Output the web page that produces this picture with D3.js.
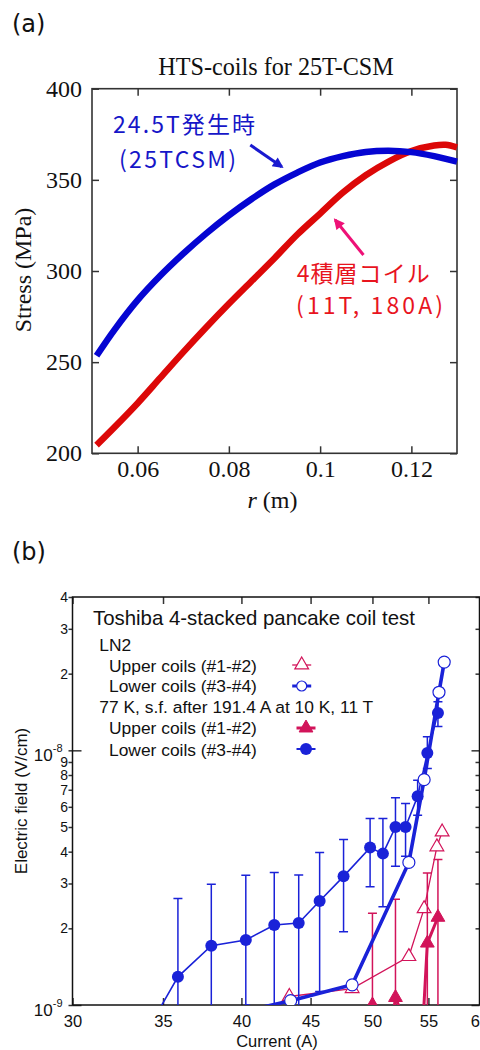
<!DOCTYPE html>
<html><head><meta charset="utf-8">
<script src="https://cdn.jsdelivr.net/npm/d3@7"></script>
<style>
html,body{margin:0;padding:0;background:#fff;}
svg{display:block;}
</style></head>
<body>
<svg id="chart" width="480" height="1050"></svg>
<script>
// ---------- Panel (a) data ----------
const radiusBlue = [0.051,0.055,0.060,0.065,0.070,0.075,0.080,0.085,0.090,0.095,0.100,0.105,0.110,0.115,0.120,0.125,0.130];
const stressBlue = [253.5,268,284,297.5,309.5,320.5,330.5,339.5,347.5,354,359.5,363,365.3,366,365.2,363,360];
const radiusRed  = [0.051,0.055,0.060,0.065,0.070,0.075,0.080,0.085,0.090,0.095,0.100,0.105,0.110,0.115,0.120,0.125,0.1275,0.130];
const stressRed  = [204.5,214.5,227.5,241.5,255.5,269,282,294.5,307,320,331.5,343,352.5,360,365.8,368.8,369.2,367.8];
const stressTicks = [200,250,300,350,400];
const radiusTicks = [0.06,0.08,0.1,0.12];
const radiusTickLabels = ["0.06","0.08","0.1","0.12"];
const arrowBlue = [[0.0847,369.1],[0.0916,357.2]];
const arrowPink = [[0.1095,308.8],[0.1033,328.0]];

// ---------- Panel (b) data ----------
const currentTicks = [30,35,40,45,50,55,60];
const currentTickLabels = ["30","35","40","45","50","55","60"];
const fieldMajorTicks = [1e-9,1e-8];
const fieldMajorExp = ["-9","-8"];
const fieldMinorTicks = [2e-9,3e-9,4e-9,5e-9,6e-9,7e-9,8e-9,9e-9,2e-8,3e-8,4e-8];
const fieldMinorLabels = ["2","3","4","5","6","7","8","9","2","3","4"];

// LN2, upper coils (#1-#2): open triangles
const upperLN2Current = [41.5,43.4,48.3,53.2,54.6,55.8,56.3];
const upperLN2Field   = [0.9e-9,1.08e-9,1.16e-9,1.55e-9,2.39e-9,4.18e-9,4.78e-9];
// LN2, lower coils (#3-#4): open circles
const lowerLN2Current = [40.4,43.5,48.3,53.2,54.6,56.0,56.5];
const lowerLN2Field   = [0.95e-9,1.04e-9,1.2e-9,3.63e-9,7.67e-9,16.9e-9,22.2e-9];
// 77 K, upper coils: filled triangles (with error bars)
const upper77Current = [50.0,51.0,52.0,54.3,54.9,55.9];
const upper77Field   = [1.0e-9,0.5e-9,1.07e-9,0.6e-9,1.75e-9,2.21e-9];
const upper77ErrLow  = [0.5e-9,null,0.5e-9,null,0.5e-9,0.5e-9];
const upper77ErrHigh = [2.29e-9,null,2.6e-9,null,3.3e-9,3.73e-9];
// 77 K, lower coils: filled circles (with error bars)
const lower77Current = [34.1,35.9,38.0,40.3,42.3,44.1,45.7,47.6,49.8,50.9,52.0,52.9,54.0,54.9,55.9];
const lower77Field   = [0.8e-9,1.29e-9,1.71e-9,1.80e-9,2.06e-9,2.10e-9,2.56e-9,3.2e-9,4.15e-9,3.93e-9,5.0e-9,5.0e-9,6.6e-9,9.76e-9,14.0e-9];
const lower77ErrLow  = [null,0.5e-9,0.5e-9,0.5e-9,0.5e-9,0.5e-9,1.13e-9,1.94e-9,2.91e-9,2.43e-9,3.51e-9,3.84e-9,5.56e-9,8.48e-9,12.4e-9];
const lower77ErrHigh = [null,2.62e-9,2.98e-9,3.23e-9,3.31e-9,3.24e-9,3.97e-9,4.47e-9,5.4e-9,5.4e-9,6.52e-9,6.18e-9,7.63e-9,11.3e-9,15.5e-9];

const legendLines = [
  {text:"LN2", x:99.3, y:650.5},
  {text:"Upper coils (#1-#2)", x:109, y:671.5},
  {text:"Lower coils (#3-#4)", x:109, y:692.3},
  {text:"77 K, s.f. after 191.4 A at 10 K, 11 T", x:99.3, y:713.3},
  {text:"Upper coils (#1-#2)", x:109, y:734.3},
  {text:"Lower coils (#3-#4)", x:109, y:755.5}
];

// ---------- drawing ----------
const svg = d3.select("#chart");
const serif = "'Liberation Serif','Times New Roman',serif";
const sans = "'Liberation Sans',Arial,Helvetica,sans-serif";
const cjk = "'Noto Sans CJK JP','Noto Sans',sans-serif";
const defs = svg.append("defs");

function arrowMarker(id, color){
  defs.append("marker").attr("id",id).attr("viewBox","0 0 10 10")
    .attr("refX",8).attr("refY",5).attr("markerWidth",4.2).attr("markerHeight",3.6)
    .attr("orient","auto")
    .append("path").attr("d","M0,0 L10,5 L0,10 Z").attr("fill",color);
}
arrowMarker("arrB","#1a1ad0");
arrowMarker("arrP","#ee1177");

// ===== Panel (a) =====
const A = {left:92, right:457, top:88.7, bottom:453.3};
const xA = d3.scaleLinear().domain([0.05,0.13]).range([A.left,A.right]);
const yA = d3.scaleLinear().domain([200,400]).range([A.bottom,A.top]);

svg.append("text").attr("x",12).attr("y",32).attr("font-family","'DejaVu Sans',sans-serif")
  .attr("font-size",24).attr("fill","#111").text("(a)");
svg.append("text").attr("x",276).attr("y",75).attr("text-anchor","middle")
  .attr("font-family",serif).attr("font-size",24.2).attr("fill","#111").text("HTS-coils for 25T-CSM");

function styleAxis(g, font, size){
  g.attr("font-family",font).attr("font-size",size);
  g.select(".domain").remove();
  g.selectAll(".tick line").attr("stroke","#333").attr("stroke-width",1.5);
  g.selectAll(".tick text").attr("fill","#111");
}
styleAxis(svg.append("g").attr("transform",`translate(0,${A.bottom})`)
  .call(d3.axisBottom(xA).tickValues(radiusTicks).tickFormat((d,i)=>radiusTickLabels[i]).tickSize(-7).tickPadding(7)), serif, 24);
styleAxis(svg.append("g").attr("transform",`translate(0,${A.top})`)
  .call(d3.axisTop(xA).tickValues(radiusTicks).tickFormat("").tickSize(-7)), serif, 24);
styleAxis(svg.append("g").attr("transform",`translate(${A.left},0)`)
  .call(d3.axisLeft(yA).tickValues(stressTicks).tickFormat(d3.format("d")).tickSize(-7).tickPadding(10)), serif, 24);
styleAxis(svg.append("g").attr("transform",`translate(${A.right},0)`)
  .call(d3.axisRight(yA).tickValues(stressTicks).tickFormat("").tickSize(-7)), serif, 24);
svg.append("rect").attr("x",A.left).attr("y",A.top).attr("width",A.right-A.left).attr("height",A.bottom-A.top)
  .attr("fill","none").attr("stroke","#333").attr("stroke-width",1.6);

// axis titles
const rt = svg.append("text").attr("x",272.5).attr("y",508).attr("text-anchor","middle")
  .attr("font-family",serif).attr("font-size",24).attr("fill","#111");
rt.append("tspan").attr("font-style","italic").text("r");
rt.append("tspan").text(" (m)");
svg.append("text").attr("transform","translate(31,270) rotate(-90)").attr("text-anchor","middle")
  .attr("font-family",serif).attr("font-size",24).attr("fill","#111").text("Stress (MPa)");

// curves
const lineA = d3.line().x(d=>xA(d[0])).y(d=>yA(d[1])).curve(d3.curveCatmullRom);
svg.append("path").attr("d",lineA(d3.zip(radiusRed,stressRed))).attr("fill","none")
  .attr("stroke","#dc0808").attr("stroke-width",6.5);
svg.append("path").attr("d",lineA(d3.zip(radiusBlue,stressBlue))).attr("fill","none")
  .attr("stroke","#0505d2").attr("stroke-width",6.5);

// annotations
svg.append("path").attr("d",d3.line().x(d=>xA(d[0])).y(d=>yA(d[1]))(arrowBlue))
  .attr("stroke","#1a1ad0").attr("stroke-width",3).attr("fill","none").attr("marker-end","url(#arrB)");
svg.append("path").attr("d",d3.line().x(d=>xA(d[0])).y(d=>yA(d[1]))(arrowPink))
  .attr("stroke","#ee1177").attr("stroke-width",3).attr("fill","none").attr("marker-end","url(#arrP)");
function label(t,x,y,w,col){
  svg.append("text").attr("x",x).attr("y",y).attr("font-family",cjk).attr("font-size",23)
    .attr("fill",col).attr("textLength",w).attr("lengthAdjust","spacing").text(t);
}
label("24.5T発生時",113,133,142,"#1616c8");
label("(25TCSM)",119,168.3,117,"#1616c8");
label("4積層コイル",296.7,282,133,"#e8141e");
label("(11T, 180A)",296,313.5,147,"#e8141e");

// ===== Panel (b) =====
const B = {left:72.5, right:479.5, top:597, bottom:1005};
const xB = d3.scaleLog().domain([30,60]).range([B.left,B.right]);
const yB = d3.scaleLog().domain([1e-9,4e-8]).range([B.bottom,B.top]);

svg.append("text").attr("x",12).attr("y",560).attr("font-family","'DejaVu Sans',sans-serif")
  .attr("font-size",24).attr("fill","#111").text("(b)");

styleAxis(svg.append("g").attr("transform",`translate(0,${B.bottom})`)
  .call(d3.axisBottom(xB).tickValues(currentTicks).tickFormat((d,i)=>currentTickLabels[i]).tickSize(-7).tickPadding(10)), sans, 16.5);
styleAxis(svg.append("g").attr("transform",`translate(0,${B.top})`)
  .call(d3.axisTop(xB).tickValues(currentTicks).tickFormat("").tickSize(-7)), sans, 16.5);
// left minor
styleAxis(svg.append("g").attr("transform",`translate(${B.left},0)`)
  .call(d3.axisLeft(yB).tickValues(fieldMinorTicks).tickFormat((d,i)=>fieldMinorLabels[i]).tickSize(4).tickPadding(0.5)), sans, 14);
// left major (outward + inward)
const gMaj = svg.append("g").attr("transform",`translate(${B.left},0)`)
  .call(d3.axisLeft(yB).tickValues(fieldMajorTicks).tickFormat("").tickSize(4));
styleAxis(gMaj, sans, 17);
styleAxis(svg.append("g").attr("transform",`translate(${B.left},0)`)
  .call(d3.axisLeft(yB).tickValues(fieldMajorTicks).tickFormat("").tickSize(-9)), sans, 17);
gMaj.selectAll(".tick").each(function(d,i){
  const t = d3.select(this).append("text").attr("x",-10).attr("y",10).attr("text-anchor","end")
    .attr("fill","#111").attr("font-size",17);
  t.append("tspan").text("10");
  t.append("tspan").attr("font-size",11).attr("dy",-9).text(fieldMajorExp[i]);
});
// right axis
styleAxis(svg.append("g").attr("transform",`translate(${B.right},0)`)
  .call(d3.axisRight(yB).tickValues(fieldMinorTicks).tickFormat("").tickSize(-4)), sans, 14);
styleAxis(svg.append("g").attr("transform",`translate(${B.right},0)`)
  .call(d3.axisRight(yB).tickValues(fieldMajorTicks).tickFormat("").tickSize(-8)), sans, 14);
svg.append("rect").attr("x",B.left).attr("y",B.top).attr("width",B.right-B.left).attr("height",B.bottom-B.top)
  .attr("fill","none").attr("stroke","#111").attr("stroke-width",1.5);

svg.append("text").attr("x",277).attr("y",1047).attr("text-anchor","middle")
  .attr("font-family",sans).attr("font-size",16.5).attr("fill","#111").text("Current (A)");
svg.append("text").attr("transform","translate(27,801) rotate(-90)").attr("text-anchor","middle")
  .attr("font-family",sans).attr("font-size",17).attr("fill","#111").text("Electric field (V/cm)");

// legend text
svg.append("text").attr("x",93).attr("y",625).attr("font-family",sans).attr("font-size",20.4)
  .attr("fill","#111").text("Toshiba 4-stacked pancake coil test");
svg.selectAll("text.leg").data(legendLines).join("text").attr("class","leg")
  .attr("x",d=>d.x).attr("y",d=>d.y).attr("font-family",sans).attr("font-size",17.4)
  .attr("fill","#111").text(d=>d.text);

// plot area with clip
defs.append("clipPath").attr("id","clipB").append("rect")
  .attr("x",B.left).attr("y",B.top).attr("width",B.right-B.left).attr("height",B.bottom-B.top);
const plot = svg.append("g").attr("clip-path","url(#clipB)");

const BLUE = "#1a22d8", PINK = "#d2145a";
const lineB = d3.line().x(d=>xB(d[0])).y(d=>yB(d[1]));
const tri = d3.symbol().type(d3.symbolTriangle).size(82);

function errorBars(g, cur, lo, hi, col){
  cur.forEach((c,i)=>{
    if(hi[i]==null) return;
    const x = xB(c), y1 = yB(lo[i]), y2 = yB(hi[i]);
    g.append("line").attr("x1",x).attr("x2",x).attr("y1",y1).attr("y2",y2).attr("stroke",col).attr("stroke-width",1.5);
    [y1,y2].forEach(y=>g.append("line").attr("x1",x-4.5).attr("x2",x+4.5).attr("y1",y).attr("y2",y)
      .attr("stroke",col).attr("stroke-width",1.5));
  });
}

// LN2 upper (open triangles)
plot.append("path").attr("d",lineB(d3.zip(upperLN2Current,upperLN2Field))).attr("fill","none")
  .attr("stroke",PINK).attr("stroke-width",1.3);
plot.selectAll("path.tO").data(d3.zip(upperLN2Current,upperLN2Field)).join("path").attr("class","tO")
  .attr("d",tri).attr("transform",d=>`translate(${xB(d[0])},${yB(d[1])})`)
  .attr("fill","#fff").attr("stroke",PINK).attr("stroke-width",1.2);

// 77K upper (filled triangles)
errorBars(plot, upper77Current, upper77ErrLow, upper77ErrHigh, PINK);
plot.append("path").attr("d",lineB(d3.zip(upper77Current,upper77Field))).attr("fill","none")
  .attr("stroke",PINK).attr("stroke-width",3);
plot.selectAll("path.tF").data(d3.zip(upper77Current,upper77Field)).join("path").attr("class","tF")
  .attr("d",tri).attr("transform",d=>`translate(${xB(d[0])},${yB(d[1])})`)
  .attr("fill",PINK).attr("stroke",PINK).attr("stroke-width",1);

// 77K lower (filled circles)
errorBars(plot, lower77Current, lower77ErrLow, lower77ErrHigh, BLUE);
plot.append("path").attr("d",lineB(d3.zip(lower77Current,lower77Field))).attr("fill","none")
  .attr("stroke",BLUE).attr("stroke-width",1.6);
plot.selectAll("circle.cF").data(d3.zip(lower77Current,lower77Field)).join("circle").attr("class","cF")
  .attr("cx",d=>xB(d[0])).attr("cy",d=>yB(d[1])).attr("r",6).attr("fill",BLUE);

// LN2 lower (open circles)
plot.append("path").attr("d",lineB(d3.zip(lowerLN2Current,lowerLN2Field))).attr("fill","none")
  .attr("stroke",BLUE).attr("stroke-width",3.6);
plot.selectAll("circle.cO").data(d3.zip(lowerLN2Current,lowerLN2Field)).join("circle").attr("class","cO")
  .attr("cx",d=>xB(d[0])).attr("cy",d=>yB(d[1])).attr("r",6).attr("fill","#fff")
  .attr("stroke",BLUE).attr("stroke-width",1.2);

// legend markers
const lg = svg.append("g");
function stub(x,y,col,w){ lg.append("line").attr("x1",x-9.5).attr("x2",x+9.5).attr("y1",y).attr("y2",y).attr("stroke",col).attr("stroke-width",w); }
stub(301.7,665,PINK,1.3);
lg.append("path").attr("d",tri).attr("transform","translate(301.7,665)").attr("fill","#fff").attr("stroke",PINK).attr("stroke-width",1.2);
stub(301.7,686,BLUE,3);
lg.append("circle").attr("cx",301.7).attr("cy",686).attr("r",5).attr("fill","#fff").attr("stroke",BLUE).attr("stroke-width",1.2);
stub(306,728,PINK,3);
lg.append("path").attr("d",tri).attr("transform","translate(306,728)").attr("fill",PINK).attr("stroke",PINK);
stub(306,749,BLUE,2);
lg.append("circle").attr("cx",306).attr("cy",749).attr("r",6).attr("fill",BLUE);
</script>
</body></html>
